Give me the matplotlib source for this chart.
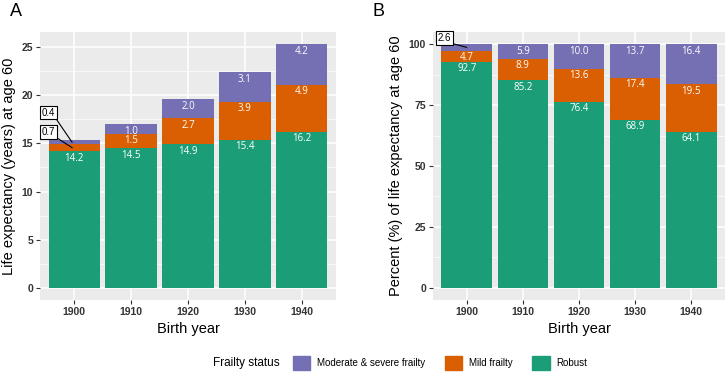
import matplotlib
matplotlib.use('Agg')
import matplotlib.pyplot as plt
import numpy as np
from matplotlib.patches import Patch

plt.rcParams['font.family'] = ['Liberation Sans', 'DejaVu Sans']

# data
years = [1900, 1910, 1920, 1930, 1940]
series = ['Robust', 'Mild frailty', 'Moderate & severe frailty']
colors = ['#1B9E77', '#D95F02', '#7570B3']

# panel A: life expectancy (years)
robust_yrs = [14.2, 14.5, 14.9, 15.4, 16.2]
mild_yrs = [0.7, 1.5, 2.7, 3.9, 4.9]
mod_yrs = [0.4, 1.0, 2.0, 3.1, 4.2]

# panel B: percent of life expectancy
robust_pct = [92.7, 85.2, 76.4, 68.9, 64.1]
mild_pct = [4.7, 8.9, 13.6, 17.4, 19.5]
mod_pct = [2.6, 5.9, 10.0, 13.7, 16.4]

bg = '#EBEBEB'
tick_col = '#333333'


def style_axes(ax, ymax, major, minor):
    ax.set_facecolor(bg)
    for s in ax.spines.values():
        s.set_visible(False)
    ax.set_yticks(major)
    ax.set_yticks(minor, minor=True)
    ax.set_xticks(years)
    ax.grid(which='major', color='white', linewidth=1.1)
    ax.grid(which='minor', axis='y', color='white', linewidth=0.5)
    ax.set_axisbelow(True)
    ax.tick_params(axis='both', which='major', length=3, width=0.8, color=tick_col,
                   labelcolor=tick_col, labelsize=7.5, pad=2)
    ax.tick_params(axis='both', which='minor', length=0)
    for lab in ax.get_xticklabels() + ax.get_yticklabels():
        lab.set_fontweight('bold')
    ax.set_xlim(1894, 1946)
    ax.set_ylim(-ymax * 0.05, ymax * 1.05)
    ax.set_xlabel('Birth year', fontsize=10.5, color='black', labelpad=4)


def stack(ax, vals_list, small):
    bottom = np.zeros(len(years))
    for vals, col in zip(vals_list, colors):
        vals = np.array(vals)
        ax.bar(years, vals, width=9, bottom=bottom, color=col, linewidth=0)
        for i, (x, v) in enumerate(zip(years, vals)):
            if (i, col) in small:
                continue
            ax.annotate(f'{v:.1f}', (x, bottom[i] + v), xytext=(0, -5),
                        textcoords='offset points', ha='center', va='center',
                        color='white', fontsize=7, family='Open Sans')
        bottom = bottom + vals


fig = plt.figure(figsize=(7.27, 3.82), dpi=100)

axA = fig.add_axes([40 / 727, 1 - 300 / 382, 296 / 727, 268 / 382])
axB = fig.add_axes([433 / 727, 1 - 300 / 382, 292 / 727, 268 / 382])

# panel A
stack(axA, [robust_yrs, mild_yrs, mod_yrs], {(0, colors[1]), (0, colors[2])})
style_axes(axA, robust_yrs[-1] + mild_yrs[-1] + mod_yrs[-1],
           [0, 5, 10, 15, 20, 25], [2.5, 7.5, 12.5, 17.5, 22.5])
axA.set_ylabel('Life expectancy (years) at age 60', fontsize=10.5, labelpad=4)

box = dict(boxstyle='square,pad=0.2', fc='white', ec='black', lw=0.8)
arr = dict(arrowstyle='-', color='black', lw=0.8, shrinkA=0, shrinkB=0, relpos=(1, 0))
axA.annotate(f'{mod_yrs[0]:.1f}', (years[0] - 0.35, robust_yrs[0] + mild_yrs[0] + mod_yrs[0] / 2),
             xytext=(1895.5, 18.2), ha='center', va='center', fontsize=7,
             bbox=box, arrowprops=arr)
axA.annotate(f'{mild_yrs[0]:.1f}', (years[0] - 0.35, robust_yrs[0] + mild_yrs[0] / 2),
             xytext=(1895.5, 16.2), ha='center', va='center', fontsize=7,
             bbox=box, arrowprops=arr)

# panel B
stack(axB, [robust_pct, mild_pct, mod_pct], {(0, colors[2])})
style_axes(axB, 100, [0, 25, 50, 75, 100], [12.5, 37.5, 62.5, 87.5])
axB.set_ylabel('Percent (%) of life expectancy at age 60', fontsize=10.5, labelpad=4)
axB.annotate(f'{mod_pct[0]:.1f}', (years[0], robust_pct[0] + mild_pct[0] + mod_pct[0] / 2),
             xytext=(1896.1, 102.4), ha='center', va='center', fontsize=7,
             bbox=box, arrowprops=arr)

fig.text(10 / 727, 1 - 12 / 382, 'A', fontsize=13, ha='left', va='center')
fig.text(372 / 727, 1 - 12 / 382, 'B', fontsize=13, ha='left', va='center')

# legend
handles = [Patch(color=c) for c in colors[::-1]]
fig.text(213 / 727, 1 - 363 / 382, 'Frailty status', fontsize=8.5, ha='left', va='center')
fig.legend(handles, series[::-1], loc='center left', bbox_to_anchor=(288 / 727, 1 - 363 / 382),
           ncol=3, frameon=False, fontsize=7, handlelength=1.8, handleheight=1.8,
           handletextpad=0.7, columnspacing=2.0, borderpad=0)

fig.savefig('out.png', dpi=100)
